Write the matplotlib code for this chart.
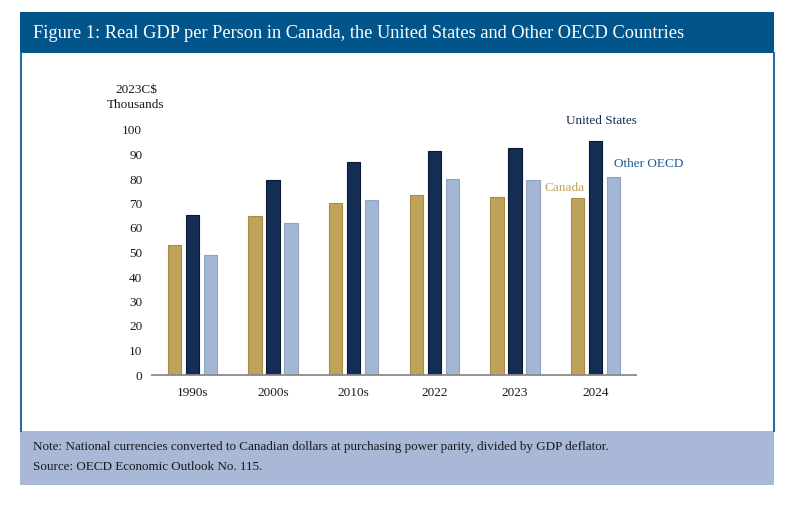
import matplotlib.pyplot as plt
from matplotlib.patches import Rectangle
import numpy as np

plt.rcParams['font.family'] = ['Liberation Serif', 'DejaVu Serif']

categories = ['1990s', '2000s', '2010s', '2022', '2023', '2024']
canada = [53.2, 65.1, 70.4, 73.4, 72.7, 72.3]
united_states = [65.4, 79.4, 86.8, 91.3, 92.7, 95.5]
other_oecd = [49.0, 62.1, 71.6, 80.2, 79.5, 80.7]
yticks = [0, 10, 20, 30, 40, 50, 60, 70, 80, 90, 100]

gold = '#BFA35B'
navy = '#142D55'
light = '#A3B6D3'
title_blue = '#02558B'

fig = plt.figure(figsize=(8, 5.07), dpi=100)

# frame, title bar and footer in figure pixels
W, H = 800, 507
def px(x, y, w, h):
    return (x / W, 1 - (y + h) / H, w / W, h / H)

x0, y0, w0, h0 = px(20, 12, 754, 41)
fig.patches.append(Rectangle((x0, y0), w0, h0, transform=fig.transFigure,
                             facecolor=title_blue, edgecolor='none', zorder=0))
x0, y0, w0, h0 = px(20, 431, 754, 54)
fig.patches.append(Rectangle((x0, y0), w0, h0, transform=fig.transFigure,
                             facecolor='#A8B8D6', edgecolor='none', zorder=0))
for xl in (20.5, 773.5):
    fig.add_artist(plt.Line2D([xl / W, xl / W], [1 - 53 / H, 1 - 431 / H],
                              transform=fig.transFigure, color='#2A6AA6', lw=1.5))

fig.text(33 / W, 1 - 33 / H, 'Figure 1: Real GDP per Person in Canada, the United States and Other OECD Countries',
         color='white', fontsize=13.2, va='center', ha='left')
fig.text(33 / W, 1 - 447 / H,
         'Note: National currencies converted to Canadian dollars at purchasing power parity, divided by GDP deflator.',
         color='#1a1a1a', fontsize=9.45, va='center', ha='left')
fig.text(33 / W, 1 - 467 / H, 'Source: OECD Economic Outlook No. 115.',
         color='#1a1a1a', fontsize=9.45, va='center', ha='left')
fig.text(136 / W, 1 - 97.5 / H, '2023C$\nThousands', color='#1a1a1a', fontsize=9.5,
         va='center', ha='center', linespacing=1.25)

ax = fig.add_axes([152 / W, 1 - 375 / H, 484 / W, 245 / H])
x = np.arange(len(categories))
bw = 0.165
off = 0.223
ax.bar(x - off, canada, bw, color=gold, edgecolor='#A88C45', lw=0.8)
ax.bar(x, united_states, bw, color=navy, edgecolor='#0B1A33', lw=0.8)
ax.bar(x + off, other_oecd, bw, color=light, edgecolor='#8FA4C4', lw=0.8)

ax.set_xlim(-0.5, 5.5)
ax.set_ylim(0, 100)
ax.set_yticks(yticks)
ax.set_xticks(x)
ax.set_xticklabels(categories)
ax.tick_params(length=0, labelsize=9.5, colors='#1a1a1a', pad=9)
ax.tick_params(axis='y', pad=7)
for s in ('top', 'right', 'left'):
    ax.spines[s].set_visible(False)
ax.spines['bottom'].set_color('#8a8a8a')
ax.spines['bottom'].set_linewidth(1.3)

ax.text(5.07, 103.5, 'United States', color=navy, fontsize=9.5, ha='center', va='center', clip_on=False)
ax.text(5.66, 86, 'Other OECD', color='#1F5C99', fontsize=9.5, ha='center', va='center', clip_on=False)
ax.text(4.62, 76.5, 'Canada', color=gold, fontsize=9.5, ha='center', va='center', clip_on=False)

plt.savefig('out.png', dpi=100)
plt.close()
